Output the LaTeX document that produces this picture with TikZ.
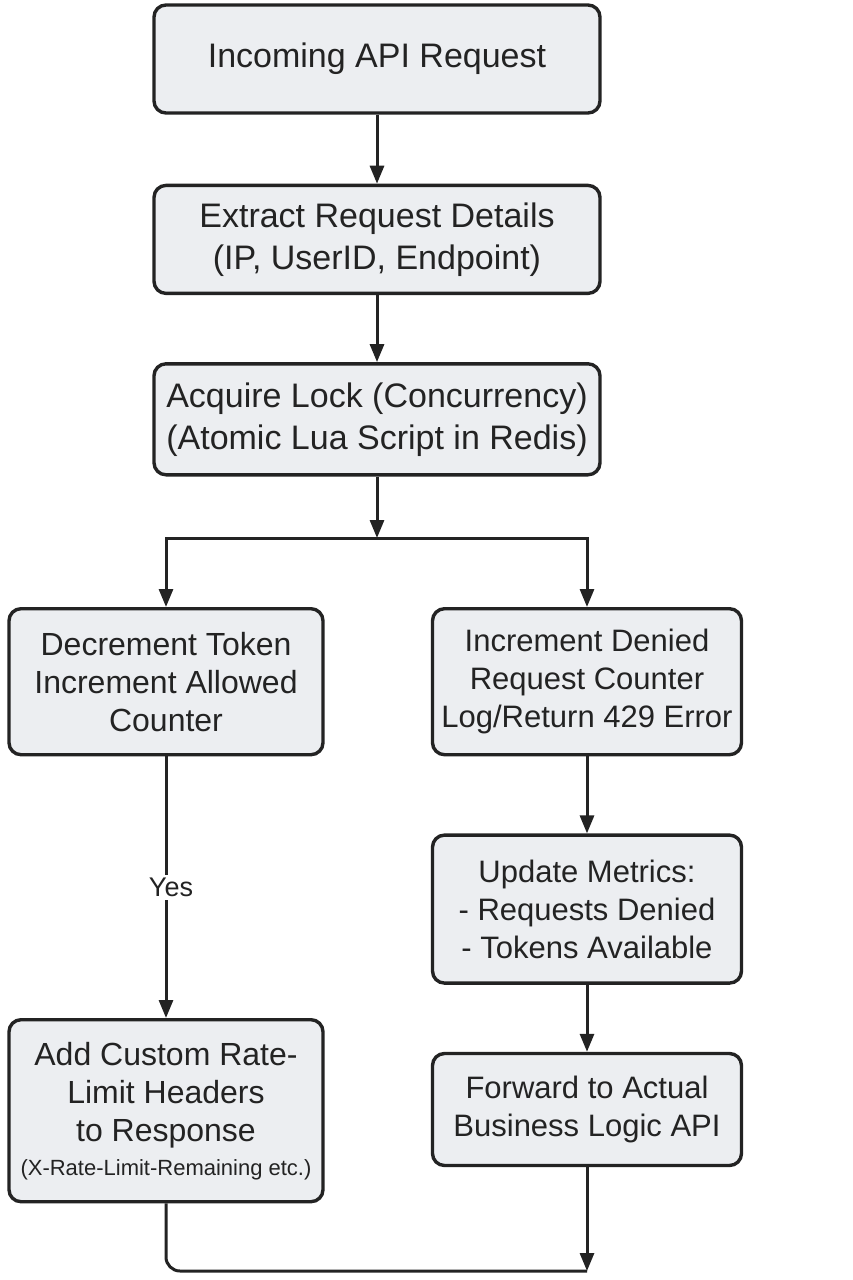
\documentclass[tikz,border=0pt]{standalone}
\usepackage{fontspec}
\setmainfont{Liberation Sans}
\usepackage{tikz}
\usetikzlibrary{arrows.meta,positioning}
\definecolor{boxfill}{HTML}{ECEEF1}
\definecolor{ink}{HTML}{232323}
\tikzset{
  box/.style={draw=ink, line width=3.4pt, rectangle, rounded corners=12pt, fill=boxfill,
    align=center, text=ink, inner sep=4pt, font=\fontsize{34}{42}\selectfont},
  topbox/.style={box, minimum width=446pt, minimum height=108pt},
  leftbox/.style={box, minimum width=314pt, font=\fontsize{32}{38}\selectfont},
  rightbox/.style={box, minimum width=309pt, font=\fontsize{31}{38}\selectfont},
  arr/.style={draw=ink, line width=3pt, -{Triangle[length=18pt,width=14pt]}},
  line/.style={draw=ink, line width=3pt},
  lbl/.style={font=\fontsize{27}{32}\selectfont, text=ink, midway, fill=white, inner sep=3pt, xshift=5pt}
}
\begin{document}
\begin{tikzpicture}[node distance=68pt]
\useasboundingbox (0,0) rectangle (853pt,-1280pt);
\node[topbox] (req) at (377pt,-59pt) {Incoming API Request};
\node[topbox, below=69pt of req] (extract) {Extract Request Details\\(IP, UserID, Endpoint)};
\node[topbox, minimum height=111pt, below=67pt of extract] (lock) {Acquire Lock (Concurrency)\\(Atomic Lua Script in Redis)};
\coordinate (split) at (377pt,-538pt);
% allowed branch
\node[leftbox, minimum height=146pt, anchor=north] (token) at (166pt,-607pt) {Decrement Token\\Increment Allowed\\Counter};
\node[leftbox, minimum height=182pt, anchor=north] (headers) at (166pt,-1018pt)
  {Add Custom Rate-\\Limit Headers\\to Response\\[-4pt]{\fontsize{22}{28}\selectfont (X-Rate-Limit-Remaining etc.)}};
% denied branch
\node[rightbox, minimum height=146pt, anchor=north] (denied) at (587pt,-607pt) {Increment Denied\\Request Counter\\Log/Return 429 Error};
\node[rightbox, minimum height=148pt, below=77pt of denied] (metrics) {Update Metrics:\\- Requests Denied\\- Tokens Available};
\node[rightbox, minimum height=112pt, below=67pt of metrics] (forward) {Forward to Actual\\Business Logic API};
\coordinate (join) at (587pt,-1271pt);
\draw[arr] (req) -- (extract);
\draw[arr] (extract) -- (lock);
\draw[arr] (lock) -- (split);
\draw[arr] (split) -| (token);
\draw[arr] (split) -| (denied);
\draw[arr] (token) -- node[lbl] {Yes} (headers);
\foreach \s/\t in {denied/metrics,metrics/forward} \draw[arr] (\s) -- (\t);
\draw[line, rounded corners=14pt] (headers.south) |- (join);
\draw[arr] (forward) -- (join);
\end{tikzpicture}
\end{document}
